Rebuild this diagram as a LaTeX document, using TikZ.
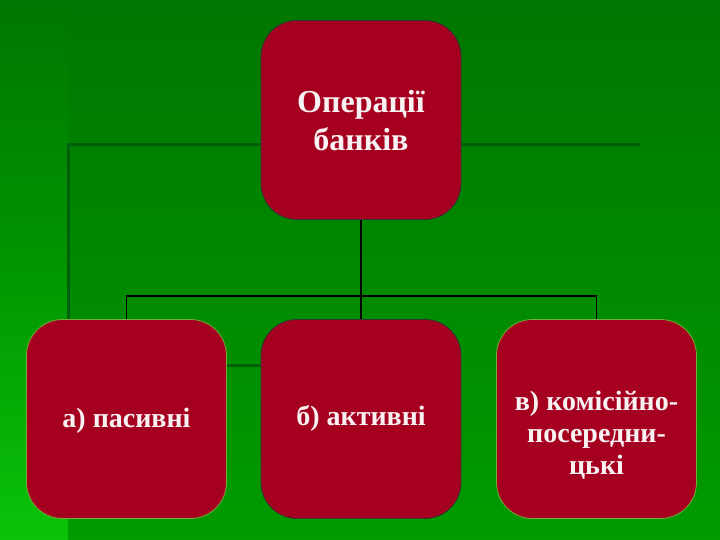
\documentclass[tikz,border=0pt]{standalone}
\usepackage{fontspec}
\setmainfont{Liberation Serif}
\definecolor{boxred}{RGB}{166,0,33}
\definecolor{bgtop}{RGB}{0,118,0}
\definecolor{bgbot}{RGB}{0,155,0}
\definecolor{bglmid}{RGB}{0,150,0}
\definecolor{bglbot}{RGB}{10,195,10}
\definecolor{decoline}{RGB}{0,95,10}
\definecolor{txt}{RGB}{248,242,242}
\definecolor{edgegreen}{RGB}{120,170,60}
\begin{document}
\begin{tikzpicture}[x=1pt,y=-1pt,
  opbox/.style={draw=black!80, line width=0.8pt, fill=boxred, rounded corners=36pt,
    minimum width=200pt, minimum height=199pt, inner sep=0pt},
  lbl/.style={align=center, text=txt, inner sep=0pt, font=\bfseries\fontsize{28}{32}\selectfont},
  conn/.style={draw=black, line width=1.6pt},
  deco/.style={draw=decoline, line width=3pt}]
\useasboundingbox (0,0) rectangle (720,540);
% background
\shade[top color=bgtop, bottom color=bgbot] (0,0) rectangle (720,540);
\shade[top color=bgtop, bottom color=bglbot, middle color=bglmid] (0,0) rectangle (68,540);
% decorative lines
\draw[deco] (68,500) -- (68,145) -- (640,145);
\draw[deco] (68,365) -- (300,365);
% boxes
\node[opbox] (top) at (361,120) {};
\node[opbox, draw=edgegreen] (a) at (126.5,419) {};
\node[opbox] (b) at (361,419) {};
\node[opbox, draw=edgegreen] (c) at (596.5,419) {};
% labels
\node[lbl, font=\bfseries\fontsize{32}{38}\selectfont] (tt) at (361,121) {Операції\\банків};
\node[lbl] (at) at (126.5,421) {а) пасивні};
\node[lbl] (bt) at (361,418) {б) активні};
\node[lbl] (ct) at (596.5,435) {в) комісійно-\\посередни-\\цькі};
% connectors
\coordinate (j) at (361,296);
\draw[conn] (top.south) -- (b.north);
\draw[conn] (a.north) |- (j) -| (c.north);
\end{tikzpicture}
\end{document}
